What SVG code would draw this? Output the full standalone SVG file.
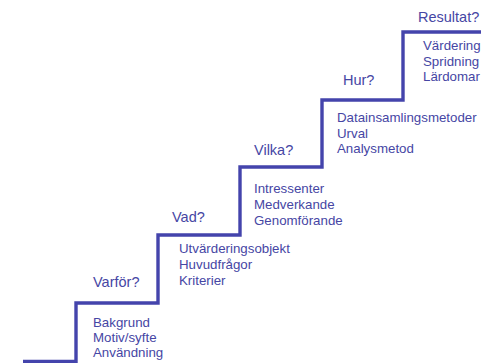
<svg xmlns="http://www.w3.org/2000/svg" width="481" height="363" viewBox="0 0 481 363">
<style>
.t{font-family:"Liberation Sans",Arial,sans-serif;font-size:14.5px;fill:#4646a4}
.b{font-family:"Liberation Sans",Arial,sans-serif;font-size:13.3px;fill:#4646a4}
.stair{fill:none;stroke:#4444ac;stroke-width:3.4;stroke-linejoin:miter}
</style>
<rect width="481" height="363" fill="#ffffff"/>
<g id="connectors">
<path class="stair" d="M23 361.5 H76 V303 H158 V235 H240 V167 H322 V100 H403 V32 H483"/>
</g>
<g id="step-varfor">
<text class="t" x="93" y="287">Varför?</text>
<text class="b" x="93" y="327">Bakgrund</text>
<text class="b" x="93" y="342">Motiv/syfte</text>
<text class="b" x="93" y="357">Användning</text>
</g>
<g id="step-vad">
<text class="t" x="172" y="222">Vad?</text>
<text class="b" x="179" y="253">Utvärderingsobjekt</text>
<text class="b" x="179" y="269">Huvudfrågor</text>
<text class="b" x="179" y="285">Kriterier</text>
</g>
<g id="step-vilka">
<text class="t" x="254" y="155">Vilka?</text>
<text class="b" x="254" y="193">Intressenter</text>
<text class="b" x="254" y="209">Medverkande</text>
<text class="b" x="254" y="225">Genomförande</text>
</g>
<g id="step-hur">
<text class="t" x="343" y="85">Hur?</text>
<text class="b" x="337" y="122">Datainsamlingsmetoder</text>
<text class="b" x="337" y="138">Urval</text>
<text class="b" x="337" y="153">Analysmetod</text>
</g>
<g id="step-resultat">
<text class="t" x="418" y="22">Resultat?</text>
<text class="b" x="423" y="50">Värdering</text>
<text class="b" x="423" y="66">Spridning</text>
<text class="b" x="423" y="81">Lärdomar</text>
</g>
</svg>
